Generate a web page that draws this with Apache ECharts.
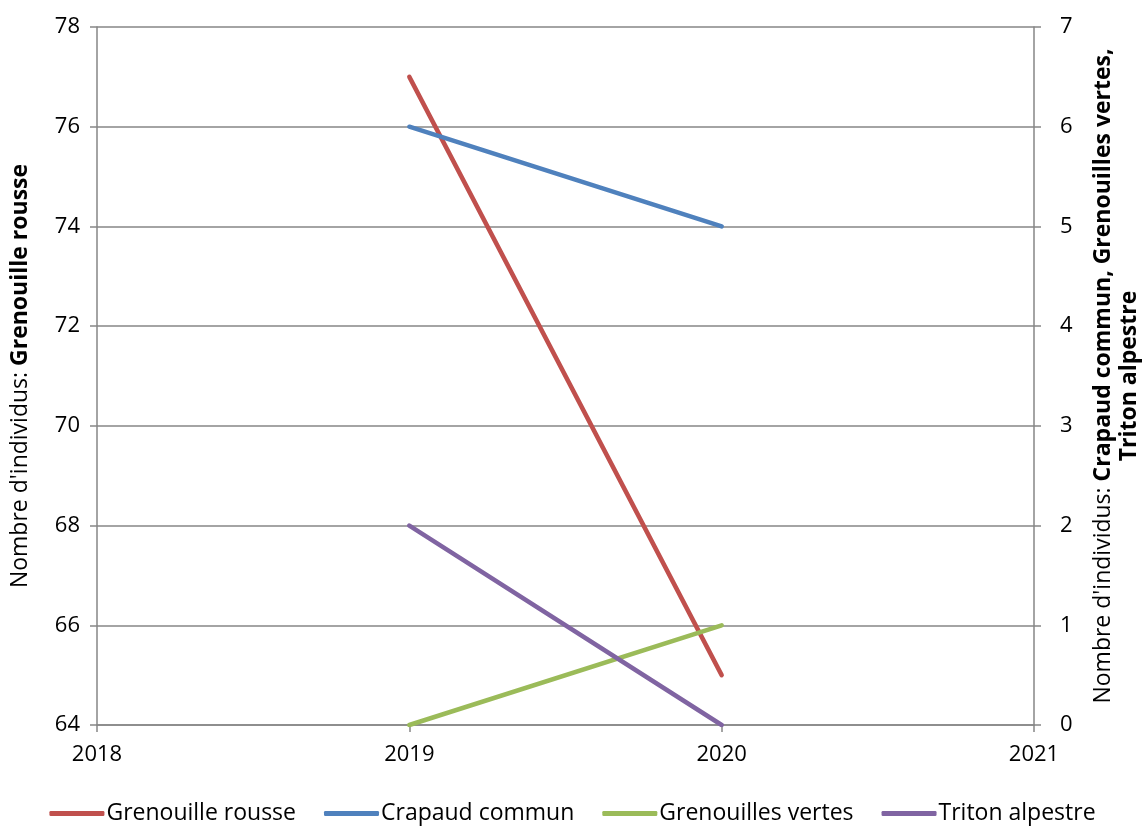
<!DOCTYPE html>
<html><head><meta charset="utf-8">
<script src="https://cdn.jsdelivr.net/npm/echarts@6/dist/echarts.min.js"></script>
<style>html,body{margin:0;padding:0;background:#fff;overflow:hidden}#c{width:1145px;height:828px}</style>
</head><body><div id="c"></div>
<script>
const years = [2019, 2020];
const grenouilleRousse = [77, 65];
const crapaudCommun = [6, 5];
const grenouillesVertes = [0, 1];
const tritonAlpestre = [2, 0];
const seriesNames = ['Grenouille rousse', 'Crapaud commun', 'Grenouilles vertes', 'Triton alpestre'];
const colors = ['#C0504D', '#4F81BD', '#9BBB59', '#8064A2'];

const FONT = 'Open Sans';
const FS = 22;
const NFS = 23;
const pair = (v) => years.map((y, i) => [y, v[i]]);
const chart = echarts.init(document.getElementById('c'), null, {renderer: 'canvas'});
const axisLineStyle = {color: '#868686', width: 1.5};
chart.setOption({
  animation: false,
  textStyle: {fontFamily: FONT},
  grid: {left: 97, right: 111, top: 27, bottom: 103, containLabel: false, outerBoundsMode: 'none'},
  legend: {
    top: 797, left: 'center',
    itemWidth: 55, itemHeight: 5, itemGap: 28,
    icon: 'roundRect',
    textStyle: {fontFamily: FONT, fontSize: NFS, color: '#000', padding: [0, 0, 0, -3]},
    data: seriesNames
  },
  xAxis: {
    type: 'value', min: 2018, max: 2021, interval: 1,
    axisLine: {lineStyle: axisLineStyle},
    axisTick: {show: true, length: 7, lineStyle: axisLineStyle},
    axisLabel: {fontFamily: FONT, fontSize: FS, color: '#000', margin: 19, formatter: (v) => String(v)},
    splitLine: {show: false}
  },
  yAxis: [{
    type: 'value', min: 64, max: 78, interval: 2, position: 'left',
    axisLine: {show: true, lineStyle: axisLineStyle},
    axisTick: {show: true, length: 7, lineStyle: axisLineStyle},
    axisLabel: {fontFamily: FONT, fontSize: FS, color: '#000', margin: 17},
    splitLine: {show: true, lineStyle: {color: '#868686', width: 1.5}},
    name: "{n|Nombre d'individus: }{b|Grenouille rousse}",
    nameLocation: 'middle', nameRotate: 90, nameGap: 65,
    nameTextStyle: {rich: {
      n: {fontFamily: FONT, fontSize: NFS, color: '#000'},
      b: {fontFamily: FONT, fontSize: NFS, color: '#000', fontWeight: 'bold'}
    }}
  }, {
    type: 'value', min: 0, max: 7, interval: 1, position: 'right',
    axisLine: {show: true, lineStyle: axisLineStyle},
    axisTick: {show: true, length: 7, lineStyle: axisLineStyle},
    axisLabel: {fontFamily: FONT, fontSize: FS, color: '#000', margin: 26},
    splitLine: {show: false},
    name: "{n|Nombre d'individus: }{b|Crapaud commun, Grenouilles vertes,}\n{b|Triton alpestre}",
    nameLocation: 'middle', nameRotate: 90, nameGap: 56,
    nameTextStyle: {align: 'center', lineHeight: 26, rich: {
      n: {fontFamily: FONT, fontSize: NFS, color: '#000', lineHeight: 26},
      b: {fontFamily: FONT, fontSize: NFS, color: '#000', fontWeight: 'bold', lineHeight: 26}
    }}
  }],
  series: [
    {name: seriesNames[0], type: 'line', yAxisIndex: 0, data: pair(grenouilleRousse)},
    {name: seriesNames[1], type: 'line', yAxisIndex: 1, data: pair(crapaudCommun)},
    {name: seriesNames[2], type: 'line', yAxisIndex: 1, data: pair(grenouillesVertes)},
    {name: seriesNames[3], type: 'line', yAxisIndex: 1, data: pair(tritonAlpestre)}
  ].map((s, i) => Object.assign(s, {
    showSymbol: false, symbol: 'none', color: colors[i],
    lineStyle: {width: 4.5, color: colors[i], cap: 'round'}
  }))
});
</script></body></html>
